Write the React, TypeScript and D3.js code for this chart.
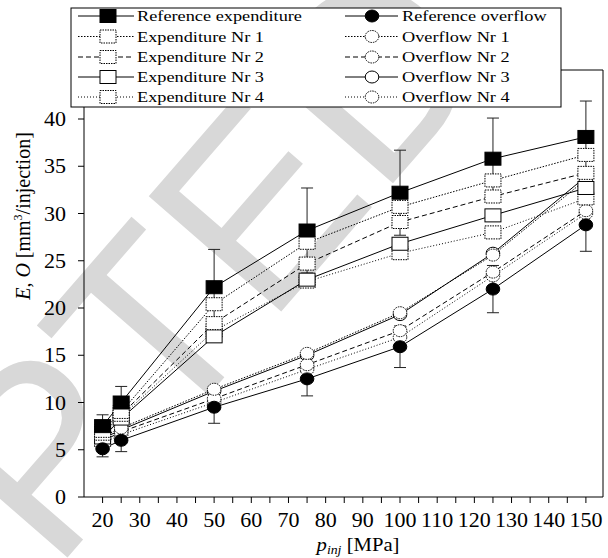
import React from 'react';
import * as d3 from 'd3';

// ---------- data ----------
const pressures = [20, 25, 50, 75, 100, 125, 150];
const refExpenditure = [7.5, 10.0, 22.2, 28.2, 32.2, 35.8, 38.1];
const refExpenditureErr = [1.2, 1.7, 4.0, 4.5, 4.5, 4.3, 3.8];
const expenditure1 = [7.0, 9.0, 20.4, 26.9, 30.7, 33.5, 36.2];
const expenditure2 = [6.7, 8.7, 18.4, 24.7, 29.1, 31.8, 34.3];
const expenditure3 = [6.3, 8.3, 17.0, 23.0, 26.8, 29.8, 32.7];
const expenditure4 = [6.0, 8.5, 17.6, 22.8, 25.8, 28.0, 31.6];
const refOverflow = [5.1, 6.0, 9.5, 12.5, 15.9, 22.0, 28.8];
const refOverflowErr = [0.85, 1.2, 1.7, 1.8, 2.2, 2.5, 2.8];
const overflow1 = [6.4, 7.3, 11.4, 15.2, 19.5, 25.6, 33.6];
const overflow2 = [5.9, 6.9, 10.4, 14.0, 17.6, 23.8, 30.3];
const overflow3 = [6.2, 7.1, 11.2, 15.0, 19.3, 25.8, 33.9];
const overflow4 = [5.7, 6.6, 10.0, 13.5, 16.9, 23.4, 30.0];

const xTickValues = d3.range(20, 151, 5);
const xLabelValues = d3.range(20, 151, 10);
const yTickValues = d3.range(0, 41, 5);

type Series = {
  name: string;
  values: number[];
  err?: number[];
  shape: 'square' | 'circle';
  filled: boolean;
  lineDash: string | undefined;
  markerDash: string | undefined;
};

const expenditureSeries: Series[] = [
  { name: 'Reference expenditure', values: refExpenditure, err: refExpenditureErr, shape: 'square', filled: true, lineDash: undefined, markerDash: undefined },
  { name: 'Expenditure Nr 1', values: expenditure1, shape: 'square', filled: false, lineDash: '1.5,1.5', markerDash: '1.5,1' },
  { name: 'Expenditure Nr 2', values: expenditure2, shape: 'square', filled: false, lineDash: '5,3', markerDash: '1.5,1' },
  { name: 'Expenditure Nr 3', values: expenditure3, shape: 'square', filled: false, lineDash: undefined, markerDash: undefined },
  { name: 'Expenditure Nr 4', values: expenditure4, shape: 'square', filled: false, lineDash: '1,2', markerDash: '1.5,1' },
];
const overflowSeries: Series[] = [
  { name: 'Reference overflow', values: refOverflow, err: refOverflowErr, shape: 'circle', filled: true, lineDash: undefined, markerDash: undefined },
  { name: 'Overflow Nr 1', values: overflow1, shape: 'circle', filled: false, lineDash: '1.5,1.5', markerDash: '1.5,1' },
  { name: 'Overflow Nr 2', values: overflow2, shape: 'circle', filled: false, lineDash: '5,3', markerDash: '1.5,1' },
  { name: 'Overflow Nr 3', values: overflow3, shape: 'circle', filled: false, lineDash: undefined, markerDash: undefined },
  { name: 'Overflow Nr 4', values: overflow4, shape: 'circle', filled: false, lineDash: '1,2', markerDash: '1.5,1' },
];

// ---------- layout ----------
const W = 608;
const H = 558;
const SERIF = '"Liberation Serif", "Times New Roman", serif';
const x = d3.scaleLinear().domain([15, 154.6]).range([84, 603]);
const y = d3.scaleLinear().domain([0, 45]).range([497, 71.75]);
const SQ_W = 16;
const SQ_H = 13;
const C_RX = 6.8;
const C_RY = 6;

function Marker({ s, cx, cy }: { s: Series; cx: number; cy: number }) {
  const fill = s.filled ? '#000' : '#fff';
  if (s.shape === 'square') {
    return (
      <rect x={cx - SQ_W / 2} y={cy - SQ_H / 2} width={SQ_W} height={SQ_H}
        fill={fill} stroke="#000" strokeWidth={1} strokeDasharray={s.markerDash} />
    );
  }
  return (
    <ellipse cx={cx} cy={cy} rx={C_RX} ry={C_RY}
      fill={fill} stroke="#000" strokeWidth={1} strokeDasharray={s.markerDash} />
  );
}

function SText({ x: tx, y: ty, sx, size, anchor, children, italic }: any) {
  return (
    <text transform={`translate(${tx},${ty}) scale(${sx},1)`} fontSize={size}
      fontFamily={SERIF} textAnchor={anchor} fontStyle={italic ? 'italic' : undefined} fill="#000">
      {children}
    </text>
  );
}

export default function App() {
  const all = [...expenditureSeries, ...overflowSeries];
  const lineGen = d3.line<number>().x((_, i) => x(pressures[i])).y((d) => y(d));
  const openSeries = all.filter((s) => !s.filled);
  const refSeries = all.filter((s) => s.filled);

  const legendRows = [16, 36.5, 57, 77, 97];
  const legendCols = [
    { series: expenditureSeries, lx0: 78, lx1: 134, mx: 108, tx: 137 },
    { series: overflowSeries, lx0: 345, lx1: 398, mx: 372, tx: 402 },
  ];

  return (
    <svg width={W} height={H} viewBox={`0 0 ${W} ${H}`}
      style={{ position: 'absolute', left: 0, top: 0, background: '#fff' }}>
      {/* watermark */}
      <text transform="translate(500,60) rotate(-49)" textAnchor="end" fontSize={255}
        fontFamily='"Liberation Sans", Arial, sans-serif' fill="#d8d8d8">
        ACCEPTED
      </text>

      {/* frame */}
      <line x1={84} x2={84} y1={70} y2={497} stroke="#000" />
      <line x1={84} x2={603} y1={497} y2={497} stroke="#000" />
      <line x1={603} x2={603} y1={70} y2={497} stroke="#000" />
      <line x1={84} x2={603} y1={70} y2={70} stroke="#000" />

      {/* y axis ticks */}
      {yTickValues.map((v) => (
        <g key={`yt${v}`}>
          <line x1={78} x2={84} y1={y(v)} y2={y(v)} stroke="#000" />
          <SText x={66} y={y(v) + 7} sx={1.1} size={20} anchor="end">{v}</SText>
        </g>
      ))}
      {/* x axis ticks */}
      {xTickValues.map((v) => (
        <line key={`xt${v}`} x1={x(v)} x2={x(v)} y1={497} y2={503} stroke="#000" />
      ))}
      {xLabelValues.map((v) => (
        <SText key={`xl${v}`} x={x(v)} y={527} sx={1.1} size={20} anchor="middle">{v}</SText>
      ))}

      {/* axis titles */}
      <text transform="translate(30,216) rotate(-90)" textAnchor="middle" fontSize={20} fontFamily={SERIF}>
        <tspan fontStyle="italic">E</tspan>, <tspan fontStyle="italic">O</tspan> [mm
        <tspan fontSize={12} dy={-8}>3</tspan>
        <tspan dy={8}>/injection]</tspan>
      </text>
      <g transform="translate(358,551) scale(1.15,1)">
        <text textAnchor="middle" fontSize={18} fontFamily={SERIF}>
          <tspan fontStyle="italic">p</tspan>
          <tspan fontStyle="italic" fontSize={12} dy={3}>inj</tspan>
          <tspan dy={-3}> [MPa]</tspan>
        </text>
      </g>

      {/* lines */}
      {all.map((s) => (
        <path key={`l-${s.name}`} d={lineGen(s.values) || ''} fill="none" stroke="#000"
          strokeWidth={1} strokeDasharray={s.lineDash} />
      ))}

      {/* error bars */}
      {refSeries.map((s) =>
        s.values.map((v, i) => {
          const e = s.err ? s.err[i] : 0;
          const cx = x(pressures[i]);
          return (
            <g key={`e-${s.name}-${i}`} stroke="#222" strokeWidth={1}>
              <line x1={cx} x2={cx} y1={y(v - e)} y2={y(v + e)} />
              <line x1={cx - 6} x2={cx + 6} y1={y(v + e)} y2={y(v + e)} />
              <line x1={cx - 6} x2={cx + 6} y1={y(v - e)} y2={y(v - e)} />
            </g>
          );
        })
      )}

      {/* markers */}
      {[...openSeries].reverse().map((s) =>
        s.values.map((v, i) => (
          <Marker key={`m-${s.name}-${i}`} s={s} cx={x(pressures[i])} cy={y(v)} />
        ))
      )}
      {refSeries.map((s) =>
        s.values.map((v, i) => (
          <Marker key={`m-${s.name}-${i}`} s={s} cx={x(pressures[i])} cy={y(v)} />
        ))
      )}

      {/* legend */}
      <rect x={71} y={8} width={490} height={99} fill="#fff" stroke="#000" strokeWidth={1} />
      {legendCols.map((col, ci) =>
        col.series.map((s, ri) => {
          const cy = legendRows[ri];
          return (
            <g key={`lg-${ci}-${ri}`}>
              <line x1={col.lx0} x2={col.lx1} y1={cy} y2={cy} stroke="#000" strokeDasharray={s.lineDash} />
              <Marker s={s} cx={col.mx} cy={cy} />
              <SText x={col.tx} y={cy + 5} sx={1.22} size={15} anchor="start">{s.name}</SText>
            </g>
          );
        })
      )}
    </svg>
  );
}
